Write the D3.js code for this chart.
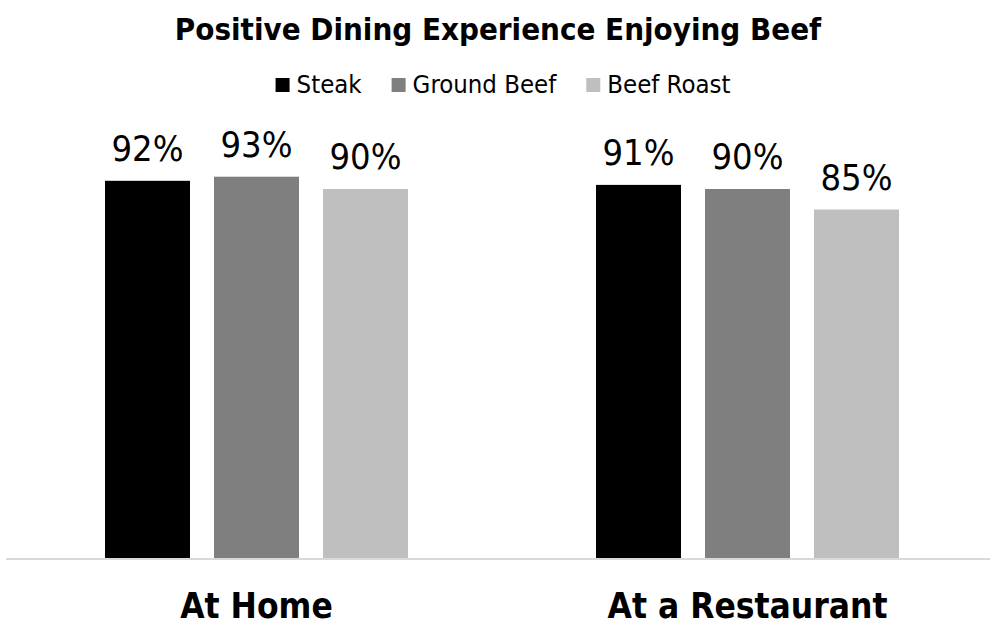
<!DOCTYPE html>
<html lang="en">
<head>
	<meta charset="utf-8">
	<title>Positive Dining Experience Enjoying Beef</title>
	<script src="https://d3js.org/d3.v7.min.js"></script>
	<style>
		body { margin: 0; background: #fff; }
		text { font-family: "DejaVu Sans Condensed", "DejaVu Sans", sans-serif; }
	</style>
</head>
<body>
	<svg id="chart" width="997" height="627"></svg>

	<script type="text/javascript">
		// data
		var categories = ["At Home", "At a Restaurant"];
		var series = ["Steak", "Ground Beef", "Beef Roast"];
		var steak = [92, 91];
		var groundBeef = [93, 90];
		var beefRoast = [90, 85];
		var colors = ["#000000", "#7f7f7f", "#bfbfbf"];

		var values = [steak, groundBeef, beefRoast];

		var svg = d3.select("#chart");

		// layout
		var baseY = 558;
		var y = d3.scaleLinear().domain([0, 100]).range([baseY, 148]);

		var x0 = d3.scaleBand().domain(categories).range([11, 993]);
		var groupW = 303;
		var x1 = d3.scaleBand().domain(series).range([0, groupW]).paddingInner(24 / 109);
		var groupOff = (x0.bandwidth() - groupW) / 2;

		// title
		svg.append("text")
			.attr("x", 498)
			.attr("y", 40)
			.attr("text-anchor", "middle")
			.attr("font-size", 31)
			.attr("font-weight", "bold")
			.text("Positive Dining Experience Enjoying Beef");

		// legend: square + label, items laid out from measured widths, centred
		var legend = svg.append("g");
		var items = [];
		series.forEach(function (s, i) {
			var it = legend.append("g");
			it.append("rect")
				.attr("x", 0)
				.attr("y", 78)
				.attr("width", 14)
				.attr("height", 14)
				.attr("fill", colors[i]);
			var t = it.append("text")
				.attr("x", 21)
				.attr("y", 93)
				.attr("font-size", 25.5)
				.text(s);
			items.push({ g: it, w: 21 + t.node().getComputedTextLength() });
		});
		var gap = 30;
		var total = d3.sum(items, function (d) { return d.w; }) + gap * (items.length - 1);
		var lx = 503 - total / 2;
		items.forEach(function (d) {
			d.g.attr("transform", "translate(" + lx + ",0)");
			lx += d.w + gap;
		});

		// bars
		categories.forEach(function (c, ci) {
			var g = svg.append("g")
				.attr("transform", "translate(" + (x0(c) + groupOff) + ",0)");
			series.forEach(function (s, si) {
				var v = values[si][ci];
				g.append("rect")
					.attr("x", x1(s))
					.attr("y", y(v))
					.attr("width", x1.bandwidth())
					.attr("height", baseY - y(v))
					.attr("fill", colors[si]);
				g.append("text")
					.attr("x", x1(s) + x1.bandwidth() / 2)
					.attr("y", y(v) - 20)
					.attr("text-anchor", "middle")
					.attr("font-size", 36)
					.text(v + "%");
			});
		});

		// category axis
		var axis = svg.append("g")
			.attr("transform", "translate(0," + (baseY + 1) + ")")
			.call(d3.axisBottom(x0).tickSize(0).tickPadding(34));
		axis.select(".domain")
			.attr("d", "M6,0H990")
			.attr("stroke", "#d9d9d9")
			.attr("stroke-width", 2);
		axis.selectAll(".tick text")
			.attr("font-family", "DejaVu Sans Condensed, DejaVu Sans, sans-serif")
			.attr("font-size", 35)
			.attr("font-weight", "bold")
			.attr("fill", "#000");
	</script>
</body>
</html>
